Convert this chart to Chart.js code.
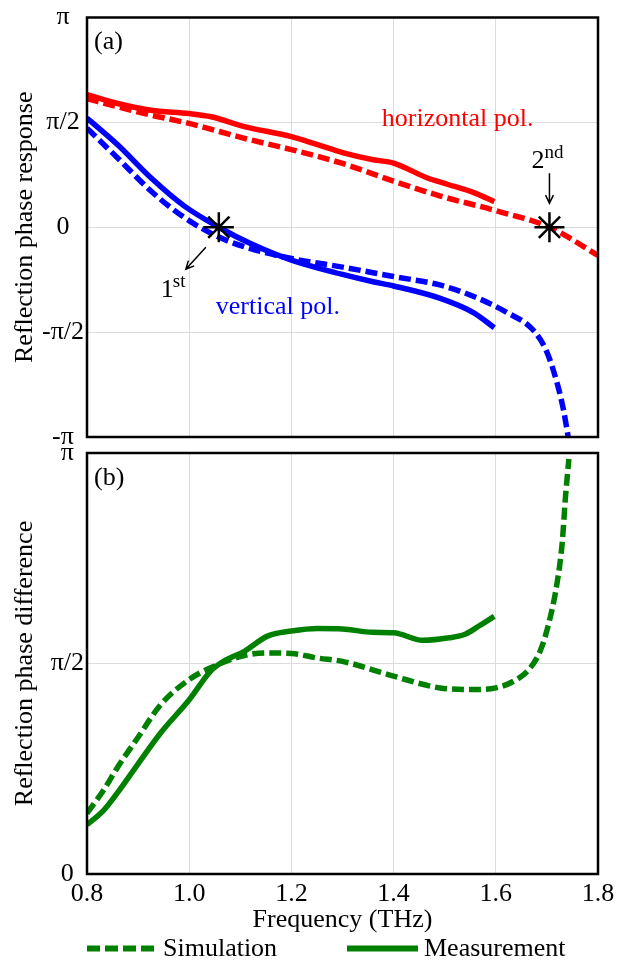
<!DOCTYPE html>
<html>
<head>
<meta charset="utf-8">
<title>Reflection phase</title>
<script src="https://cdn.jsdelivr.net/npm/chart.js@4.4.0/dist/chart.umd.min.js"></script>
<style>
  body { margin: 0; background: #fff; }
  .wrap { position: relative; width: 618px; height: 962px; overflow: hidden; }
  #phase { position: absolute; left: 0; top: 0; }
  #diff { position: absolute; left: 0; top: 430px; }
</style>
</head>
<body>
<div class="wrap">
  <canvas id="phase" width="618" height="460"></canvas>
  <canvas id="diff" width="640" height="532"></canvas>
</div>
<script>
/* ---- frequency axis (THz) ---- */
const freqTicks = [0.8, 1.0, 1.2, 1.4, 1.6, 1.8];

/* ---- (a) reflection phase, in units of pi ---- */
const phaseTicks = [-1, -0.5, 0, 0.5, 1];
const phaseLabels = ['-π', '-π/2', '0', 'π/2', 'π'];

const horMeasFreq  = [0.8, 0.86, 0.925, 1.0, 1.043, 1.108, 1.2, 1.251, 1.3, 1.36, 1.4, 1.465, 1.505, 1.557, 1.597];
const horMeasPhase = [0.632, 0.59, 0.558, 0.542, 0.527, 0.48, 0.432, 0.394, 0.356, 0.322, 0.306, 0.236, 0.205, 0.165, 0.122];

const horSimFreq  = [0.8, 0.86, 0.925, 1.0, 1.108, 1.2, 1.3, 1.4, 1.49, 1.6, 1.705, 1.8];
const horSimPhase = [0.613, 0.574, 0.535, 0.495, 0.424, 0.37, 0.304, 0.22, 0.15, 0.079, 0, -0.134];

const verMeasFreq  = [0.8, 0.86, 0.925, 0.99, 1.058, 1.12, 1.2, 1.3, 1.36, 1.4, 1.49, 1.557, 1.597];
const verMeasPhase = [0.52, 0.393, 0.236, 0.102, 0, -0.078, -0.157, -0.225, -0.26, -0.28, -0.338, -0.408, -0.479];

const verSimFreq  = [0.8, 0.86, 0.925, 0.99, 1.058, 1.12, 1.2, 1.3, 1.4, 1.49, 1.557, 1.623, 1.673, 1.7, 1.719, 1.732, 1.741, 1.745];
const verSimPhase = [0.472, 0.33, 0.173, 0.047, -0.047, -0.102, -0.149, -0.19, -0.235, -0.275, -0.33, -0.408, -0.49, -0.595, -0.735, -0.865, -0.99, -1.05];

// zero crossings (1st: vertical pol., 2nd: horizontal pol.)
const crossFreq  = [1.058, 1.705];
const crossPhase = [0, 0];

/* ---- (b) reflection phase difference, in units of pi ---- */
const diffTicks = [0, 0.5, 1];
const diffLabels = ['0', 'π/2', 'π'];

const diffSimFreq = [0.8, 0.833, 0.859, 0.899, 0.944, 1.0, 1.042, 1.108, 1.153, 1.2, 1.251, 1.3, 1.4, 1.491, 1.562, 1.6, 1.635, 1.665, 1.688, 1.707, 1.72, 1.73, 1.736, 1.743];
const diffSim     = [0.144, 0.2, 0.252, 0.323, 0.402, 0.462, 0.49, 0.519, 0.525, 0.524, 0.513, 0.505, 0.47, 0.442, 0.438, 0.442, 0.458, 0.486, 0.533, 0.612, 0.692, 0.787, 0.89, 0.986];

const diffMeasFreq = [0.8, 0.833, 0.859, 0.899, 0.944, 1.0, 1.042, 1.068, 1.108, 1.153, 1.2, 1.251, 1.3, 1.359, 1.4, 1.457, 1.509, 1.541, 1.567, 1.597];
const diffMeas     = [0.117, 0.152, 0.192, 0.26, 0.335, 0.414, 0.482, 0.506, 0.529, 0.565, 0.577, 0.583, 0.582, 0.574, 0.573, 0.555, 0.561, 0.57, 0.589, 0.612];

const seriesNames = ['Simulation', 'Measurement'];

/* ---- shared styling ---- */
const SERIF = "'Liberation Serif', 'Times New Roman', serif";
Chart.defaults.font.family = SERIF;
Chart.defaults.color = '#000';

const RED = '#ff0000', BLUE = '#0000ff', GREEN = '#008000';
const DASH = [12, 5];
const GRID = '#dcdcdc';

const pts = (xs, ys) => xs.map((x, i) => ({ x, y: ys[i] }));

const curve = (label, xs, ys, color, dashed) => ({
  label,
  data: pts(xs, ys),
  borderColor: color,
  backgroundColor: color,
  borderWidth: 5.5,
  borderDash: dashed ? DASH : [],
  pointRadius: 0,
  cubicInterpolationMode: 'monotone',
  clip: 0,
});

function freqAxis(showLabels) {
  return {
    type: 'linear', min: 0.8, max: 1.8,
    afterBuildTicks: s => { s.ticks = freqTicks.map(v => ({ value: v })); },
    afterFit: s => { s.height = showLabels ? 60 : 0; },
    grid: { color: GRID, lineWidth: 1, drawTicks: false },
    border: { display: false },
    ticks: {
      display: showLabels, padding: 7, autoSkip: false, maxRotation: 0,
      font: { size: 26, lineHeight: 1 },
      callback: v => v.toFixed(1),
    },
    title: {
      display: showLabels, text: 'Frequency (THz)',
      font: { size: 26, lineHeight: 1 }, padding: { top: 0, bottom: 1 },
    },
  };
}

function phaseAxis(title, ticks, labels) {
  return {
    min: ticks[0], max: ticks[ticks.length - 1],
    afterBuildTicks: s => { s.ticks = ticks.map(v => ({ value: v })); },
    afterFit: s => { s.width = 87; },
    grid: { color: GRID, lineWidth: 1, drawTicks: false },
    border: { display: false },
    ticks: {
      padding: 3, crossAlign: 'center',
      font: { size: 26, lineHeight: 1 },
      callback: v => labels[ticks.indexOf(v)],
    },
    title: {
      display: true, text: title,
      font: { size: 26, lineHeight: 1 }, padding: { top: 12, bottom: 0 },
    },
  };
}

/* black box round the plot area */
const frameBox = {
  id: 'frameBox',
  afterDraw(chart) {
    const { ctx, chartArea: a } = chart;
    ctx.save();
    ctx.strokeStyle = '#000';
    ctx.lineWidth = 2.5;
    ctx.strokeRect(a.left, a.top, a.right - a.left, a.bottom - a.top);
    ctx.restore();
  }
};

function arrow(ctx, x1, y1, x2, y2) {
  const ang = Math.atan2(y2 - y1, x2 - x1), h = 9;
  ctx.beginPath();
  ctx.moveTo(x1, y1);
  ctx.lineTo(x2, y2);
  ctx.moveTo(x2 - h * Math.cos(ang - 0.45), y2 - h * Math.sin(ang - 0.45));
  ctx.lineTo(x2, y2);
  ctx.lineTo(x2 - h * Math.cos(ang + 0.45), y2 - h * Math.sin(ang + 0.45));
  ctx.stroke();
}

/* panel tag, curve names and the 1st / 2nd crossing callouts */
const phaseNotes = {
  id: 'phaseNotes',
  afterDraw(chart) {
    const { ctx, chartArea: a, scales: { x, y } } = chart;
    ctx.save();
    ctx.textBaseline = 'middle';
    ctx.textAlign = 'left';
    ctx.font = '26px ' + SERIF;
    ctx.fillStyle = '#000';
    ctx.fillText('(a)', a.left + 7, a.top + 25);

    ctx.fillStyle = RED;
    ctx.fillText('horizontal pol.', x.getPixelForValue(1.377), y.getPixelForValue(0.513));
    ctx.fillStyle = BLUE;
    ctx.fillText('vertical pol.', x.getPixelForValue(1.052), y.getPixelForValue(-0.379));

    const p1x = x.getPixelForValue(crossFreq[0]), p1y = y.getPixelForValue(crossPhase[0]);
    const p2x = x.getPixelForValue(crossFreq[1]), p2y = y.getPixelForValue(crossPhase[1]);

    ctx.fillStyle = '#000';
    ctx.strokeStyle = '#000';
    ctx.lineWidth = 1.5;
    ctx.textBaseline = 'alphabetic';

    ctx.font = '26px ' + SERIF;
    ctx.fillText('1', p1x - 58, p1y + 70);
    ctx.font = '19px ' + SERIF;
    ctx.fillText('st', p1x - 46, p1y + 60);
    arrow(ctx, p1x - 13, p1y + 20, p1x - 33, p1y + 42);

    ctx.font = '26px ' + SERIF;
    ctx.fillText('2', p2x - 18, p2y - 59);
    ctx.font = '19px ' + SERIF;
    ctx.fillText('nd', p2x - 5, p2y - 69);
    arrow(ctx, p2x, p2y - 54, p2x, p2y - 24);
    ctx.restore();
  }
};

new Chart(document.getElementById('phase'), {
  type: 'line',
  data: {
    datasets: [
      {
        label: 'crossings',
        data: pts(crossFreq, crossPhase),
        showLine: false,
        pointStyle: 'star',
        pointRadius: 15,
        pointBorderWidth: 2.5,
        pointBorderColor: '#000',
        pointBackgroundColor: '#000',
        clip: false,
      },
      curve('horizontal meas', horMeasFreq, horMeasPhase, RED, false),
      curve('horizontal sim', horSimFreq, horSimPhase, RED, true),
      curve('vertical meas', verMeasFreq, verMeasPhase, BLUE, false),
      curve('vertical sim', verSimFreq, verSimPhase, BLUE, true),
    ]
  },
  options: {
    responsive: false,
    animation: false,
    layout: { padding: { top: 15, right: 20, bottom: 23, left: 0 } },
    plugins: { legend: { display: false }, tooltip: { enabled: false } },
    scales: {
      x: freqAxis(false),
      y: phaseAxis('Reflection phase response', phaseTicks, phaseLabels),
    }
  },
  plugins: [frameBox, phaseNotes]
});

/* legend row under panel (b): line sample + name */
const legendSpans = [[87, 157], [347, 418]];
const diffNotes = {
  id: 'diffNotes',
  afterDraw(chart) {
    const { ctx, chartArea: a } = chart;
    ctx.save();
    ctx.font = '26px ' + SERIF;
    ctx.fillStyle = '#000';
    ctx.textBaseline = 'middle';
    ctx.fillText('(b)', a.left + 7, a.top + 25);

    ctx.textBaseline = 'alphabetic';
    chart.data.datasets.forEach((ds, i) => {
      const [x0, x1] = legendSpans[i];
      ctx.strokeStyle = ds.borderColor;
      ctx.lineWidth = 6;
      ctx.setLineDash(ds.borderDash.length ? [13, 5] : []);
      ctx.beginPath();
      ctx.moveTo(x0, 518.5);
      ctx.lineTo(x1, 518.5);
      ctx.stroke();
      ctx.setLineDash([]);
      ctx.fillText(ds.label, x1 + 6, 526);
    });
    ctx.restore();
  }
};

// canvas runs past the page edge so the "1.8" label can overhang the box
new Chart(document.getElementById('diff'), {
  type: 'line',
  data: {
    datasets: [
      curve(seriesNames[0], diffSimFreq, diffSim, GREEN, true),
      curve(seriesNames[1], diffMeasFreq, diffMeas, GREEN, false),
    ]
  },
  options: {
    responsive: false,
    animation: false,
    layout: { padding: { top: 23, right: 42, bottom: 28, left: 0 } },
    plugins: { legend: { display: false }, tooltip: { enabled: false } },
    scales: {
      x: freqAxis(true),
      y: phaseAxis('Reflection phase difference', diffTicks, diffLabels),
    }
  },
  plugins: [frameBox, diffNotes]
});
</script>
</body>
</html>
